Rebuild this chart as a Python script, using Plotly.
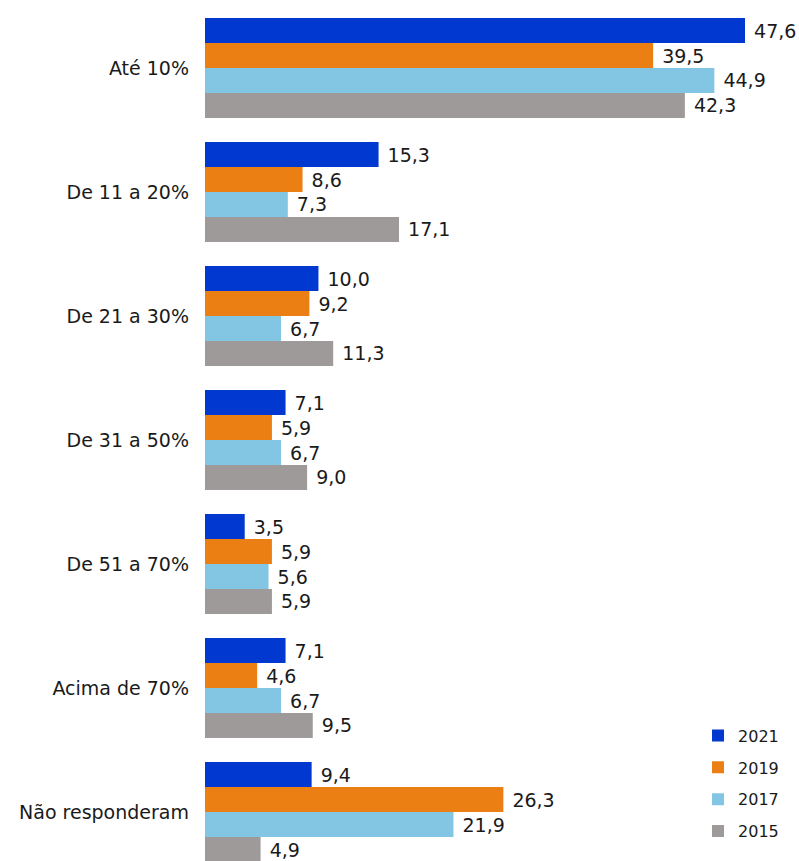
import plotly.graph_objects as go

categories = ["Até 10%", "De 11 a 20%", "De 21 a 30%", "De 31 a 50%",
              "De 51 a 70%", "Acima de 70%", "Não responderam"]
years = ["2021", "2019", "2017", "2015"]
v2021 = [47.6, 15.3, 10.0, 7.1, 3.5, 7.1, 9.4]
v2019 = [39.5, 8.6, 9.2, 5.9, 5.9, 4.6, 26.3]
v2017 = [44.9, 7.3, 6.7, 6.7, 5.6, 6.7, 21.9]
v2015 = [42.3, 17.1, 11.3, 9.0, 5.9, 9.5, 4.9]
series = [v2021, v2019, v2017, v2015]
colors = ["#0038D0", "#EC7F14", "#83C6E4", "#9E9A9A"]

FONT = "'DejaVu Sans', sans-serif"

fig = go.Figure()
for name, vals, col in zip(years, series, colors):
    fig.add_trace(go.Bar(
        y=categories, x=vals, name=name, orientation="h",
        marker=dict(color=col, line=dict(width=0)),
        texttemplate="\u00a0%{x:.1f}", textposition="outside",
        textfont=dict(size=19, color="#1a1a1a", family=FONT),
        constraintext="none", cliponaxis=False, legendgroup=name,
    ))

fig.update_layout(
    width=799, height=861,
    margin=dict(l=205, r=0, t=6, b=0),
    barmode="group", bargap=0.194, bargroupgap=0,
    separators=",.",
    plot_bgcolor="white", paper_bgcolor="white",
    font=dict(family=FONT, size=19, color="#1a1a1a"),
    showlegend=True,
    legend=dict(x=0.830, y=0.1665, xanchor="left", yanchor="top",
                traceorder="grouped", tracegroupgap=8,
                font=dict(size=16, family=FONT, color="#1a1a1a"),
                itemwidth=30, bgcolor="rgba(0,0,0,0)"),
    xaxis=dict(range=[0, 52.36], visible=False, showgrid=False, zeroline=False),
    yaxis=dict(range=[6.395, -0.5], showgrid=False, zeroline=False,
               showline=False, ticks="", ticklabelstandoff=15,
               tickfont=dict(size=19, family=FONT, color="#1a1a1a")),
)

fig.write_html(
    "out.html",
    config={"displayModeBar": False},
    post_script="document.body.style.margin='0';document.body.style.overflow='hidden';",
)
